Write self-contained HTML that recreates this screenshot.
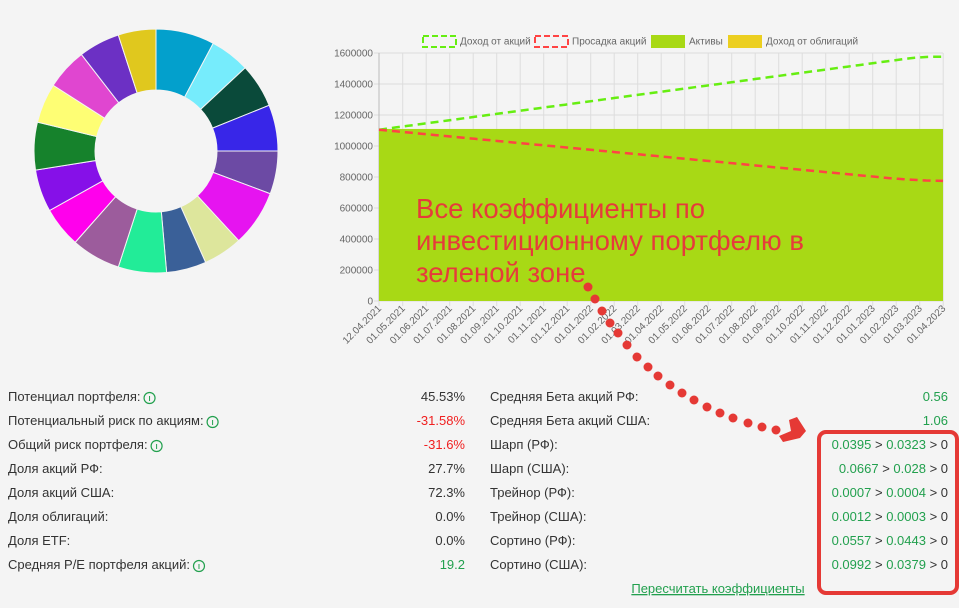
<!DOCTYPE html>
<html><head><meta charset="utf-8"><style>
html,body{margin:0;padding:0;background:#f4f4f4;}
body{width:959px;height:608px;overflow:hidden;position:relative;font-family:"Liberation Sans","DejaVu Sans",sans-serif;}
</style></head><body>
<svg id="s" width="959" height="608" xmlns="http://www.w3.org/2000/svg" style="position:absolute;left:0;top:0">
<g id="donut"></g>
<g font-size="10" fill="#666" font-family="Liberation Sans,sans-serif">
<rect x="423" y="36" width="33" height="11" fill="none" stroke="#66ee11" stroke-width="2" stroke-dasharray="6,3"/>
<text x="460" y="44.5">Доход от акций</text>
<rect x="535" y="36" width="33" height="11" fill="none" stroke="#ff4444" stroke-width="2" stroke-dasharray="6,3"/>
<text x="572" y="44.5">Просадка акций</text>
<rect x="651" y="35" width="34" height="13" fill="#a8d915"/>
<text x="689" y="44.5">Активы</text>
<rect x="728" y="35" width="34" height="13" fill="#eccf20"/>
<text x="766" y="44.5">Доход от облигаций</text>
</g>
<g id="chart"></g>
<g font-family="Liberation Sans,sans-serif" font-size="27.5" fill="#e63b3b">
<text x="416" y="218">Все коэффициенты по</text>
<text x="416" y="250">инвестиционному портфелю в</text>
<text x="416" y="282">зеленой зоне</text>
</g>
<g id="dots" fill="#e53935"></g>
<polygon points="789,420 797,417 806,431 800,438 783,442 779,436 791,431" fill="#e53935"/>
<rect x="819" y="432" width="138" height="161" rx="7" fill="none" stroke="#e53935" stroke-width="4"/>
<g id="stats" font-family="Liberation Sans,DejaVu Sans,sans-serif" font-size="13" fill="#333"></g>
<text x="718" y="593" text-anchor="middle" font-size="13" fill="#22a04e" text-decoration="underline" font-family="Liberation Sans,sans-serif">Пересчитать коэффициенты</text>
</svg>
<script>
var NS="http://www.w3.org/2000/svg";
function el(p,t,a,txt){var e=document.createElementNS(NS,t);for(var k in a)e.setAttribute(k,a[k]);if(txt!=null)e.textContent=txt;p.appendChild(e);return e;}
var cx=156,cy=151,R=122,r=61;
var b=[0,28,47,68,90,110.5,137.3,156,175,198,221.5,240.8,261,283.7,302.6,322.3,342,360];
var cols=["#03a0cc","#76ecfc","#0a4a3a","#3826e8","#6c4aa4","#e614f0","#dde69c","#3a6098","#22ec98","#9c5c9c","#ff00ec","#8610e8","#16822c","#fefe74","#e046d0","#6c30c4","#e0c81e"];
var d=document.getElementById("donut");
function pt(a,rad){var t=(a-90)*Math.PI/180;return [cx+rad*Math.cos(t),cy+rad*Math.sin(t)];}
for(var i=0;i<17;i++){var a0=b[i],a1=b[i+1];var p1=pt(a0,R),p2=pt(a1,R),p3=pt(a1,r),p4=pt(a0,r);var lg=(a1-a0)>180?1:0;
el(d,"path",{d:"M"+p1+" A"+R+","+R+" 0 "+lg+" 1 "+p2+" L"+p3+" A"+r+","+r+" 0 "+lg+" 0 "+p4+"Z",fill:cols[i],stroke:"#f4f4f4","stroke-width":1});}
var c=document.getElementById("chart");
var x0=379,x1=943,yb=301,yt=53;
function Y(v){return yb-(v/1600000)*(yb-yt);}
var xs=[x0];for(var i=0;i<24;i++)xs.push(402.7+23.5*i);
for(var v=0;v<=1600000;v+=200000){el(c,"line",{x1:x0-5,x2:x1,y1:Y(v),y2:Y(v),stroke:"#ddd","stroke-width":1});
el(c,"text",{x:x0-6,y:Y(v)+3.5,"text-anchor":"end","font-size":10,fill:"#666"},String(v));}
xs.forEach(function(x){el(c,"line",{x1:x,x2:x,y1:yt,y2:yb+5,stroke:"#ddd","stroke-width":1});});
el(c,"line",{x1:x0,x2:x0,y1:yt,y2:yb,stroke:"#bbb","stroke-width":1});
el(c,"rect",{x:x0,y:Y(1110000),width:x1-x0,height:yb-Y(1110000),fill:"#a8d915"});
var labels=["12.04.2021"];
for(var i=0;i<24;i++){var m=5+i;var yr=2021+Math.floor((m-1)/12);m=((m-1)%12)+1;labels.push("01."+(m<10?"0":"")+m+"."+yr);}
xs.forEach(function(x,i){el(c,"text",{x:x+3,y:yb+8,"text-anchor":"end","font-size":10,fill:"#666",transform:"rotate(-45 "+(x+3)+" "+(yb+8)+")"},labels[i]);});
function line(f,col){var s="";for(var i=0;i<=100;i++){var t=i/100;var x=x0+(x1-x0)*t;s+=(i?"L":"M")+x.toFixed(1)+","+Y(f(t)).toFixed(1);}
el(c,"path",{d:s,fill:"none",stroke:col,"stroke-width":2.5,"stroke-dasharray":"8,5"});}
line(function(t){return 1105000+490000*t-(t>0.93?(t-0.93)*(t-0.93)*4000000:0);},"#66ee11");
line(function(t){return 1105000-345000*t+(t>0.9?(t-0.9)*(t-0.9)*1500000:0);},"#ff4444");
var dp=[[588,287],[595,299],[602,311],[610,323],[618,333],[627,345],[637,357],[648,367],[658,376],[670,385],[682,393],[694,400],[707,407],[720,413],[733,418],[748,423],[762,427],[776,430]];
var dg=document.getElementById("dots");dp.forEach(function(p){el(dg,"circle",{cx:p[0],cy:p[1],r:4.5});});
var st=document.getElementById("stats");var G="#22a04e",Rd="#f02020",K="#333";
var L=[["Потенциал портфеля:",1,"45.53%",K],["Потенциальный риск по акциям:",1,"-31.58%",Rd],["Общий риск портфеля:",1,"-31.6%",Rd],["Доля акций РФ:",0,"27.7%",K],["Доля акций США:",0,"72.3%",K],["Доля облигаций:",0,"0.0%",K],["Доля ETF:",0,"0.0%",K],["Средняя P/E портфеля акций:",1,"19.2",G]];
L.forEach(function(r,i){var y=401+24*i;var t=el(st,"text",{x:8,y:y},r[0]);
if(r[1]){var w=t.getComputedTextLength();el(st,"circle",{cx:8+w+9,cy:y-3,r:5.5,fill:"none",stroke:G,"stroke-width":1.2});el(st,"line",{x1:8+w+9,x2:8+w+9,y1:y-5,y2:y,stroke:G,"stroke-width":1});}
el(st,"text",{x:465,y:y,"text-anchor":"end",fill:r[3]},r[2]);});
var Rr=[["Средняя Бета акций РФ:",["0.56"]],["Средняя Бета акций США:",["1.06"]],["Шарп (РФ):",["0.0395","0.0323"]],["Шарп (США):",["0.0667","0.028"]],["Трейнор (РФ):",["0.0007","0.0004"]],["Трейнор (США):",["0.0012","0.0003"]],["Сортино (РФ):",["0.0557","0.0443"]],["Сортино (США):",["0.0992","0.0379"]]];
Rr.forEach(function(r,i){var y=401+24*i;el(st,"text",{x:490,y:y},r[0]);
var t=el(st,"text",{x:948,y:y,"text-anchor":"end"});
if(r[1].length==1){el(t,"tspan",{fill:G},r[1][0]);}else{el(t,"tspan",{fill:G},r[1][0]);el(t,"tspan",{fill:K},"\u00a0>\u00a0");el(t,"tspan",{fill:G},r[1][1]);el(t,"tspan",{fill:K},"\u00a0>\u00a00");}});
</script>
</body></html>
